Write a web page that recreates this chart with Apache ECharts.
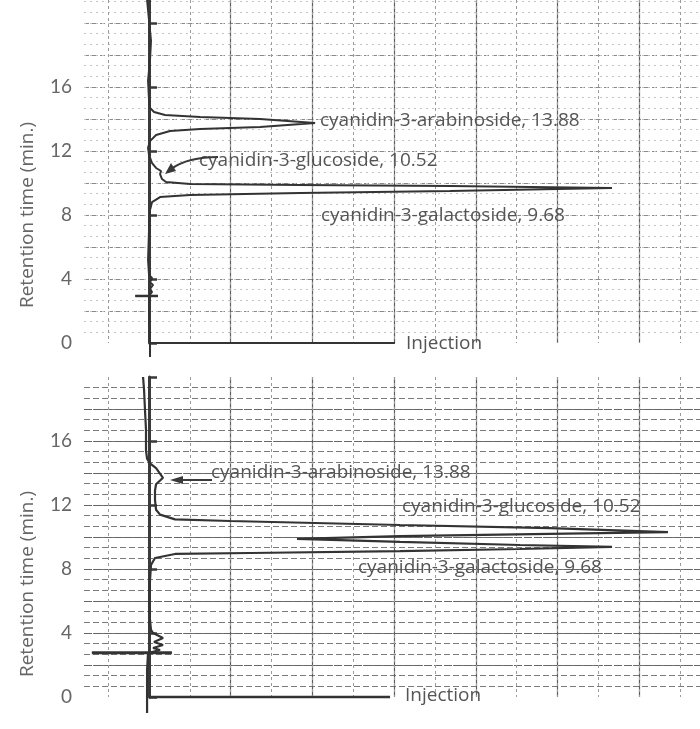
<!DOCTYPE html>
<html>
<head>
<meta charset="utf-8">
<script src="https://cdn.jsdelivr.net/npm/echarts@6/dist/echarts.min.js"></script>
<style>
html,body{margin:0;padding:0;background:#fff;}
#chart{width:700px;height:729px;}
</style>
</head>
<body>
<div id="chart"></div>
<script>
// ---- Data (x = detector response in chart divisions, y = retention time in min) ----
// Top chromatogram trace
const topTraceX = [-0.024,-0.012,0.024,0.012,-0.012,0,0.012,0.061,0.196,0.624,1.359,2.032,1.359,0.624,0.257,0.086,0.012,-0.012,0,0.037,0.086,0.147,0.135,0.159,0.208,0.502,1.848,3.684,5.667,3.684,1.848,0.502,0.135,0.037,0.012,0,-0.012,0,0.037,0.012,0.049,0.012,0.037,0,0,0.012,0.012];
const topTraceT = [21.44,20.8,18.9,17.7,16.4,15.2,14.7,14.44,14.25,14.12,14.0,13.75,13.5,13.38,13.25,13.0,12.62,12.2,11.75,11.25,10.94,10.75,10.56,10.25,10.06,9.94,9.88,9.81,9.69,9.5,9.38,9.25,9.12,8.81,8.31,7.06,5.19,4.25,4.06,3.8,3.63,3.38,3.19,2.94,1.44,0,-0.875];
// Bottom chromatogram trace
const botTraceX = [-0.073,-0.061,-0.049,-0.037,-0.037,-0.024,0.012,0.086,0.171,0.086,0.073,0.073,0.086,0.135,0.318,0.991,3.072,4.908,6.352,4.908,3.072,1.811,3.072,4.541,5.667,4.541,3.072,1.236,0.318,0.073,0.024,0.012,0,0.012,0.024,0.049,0.171,0.061,0.171,0.049,0.135,-0.012,-0.024,-0.024,-0.024];
const botTraceT = [20.0,19.2,17.9,16.7,15.4,14.9,14.6,14.3,13.7,13.3,12.9,12.3,11.7,11.4,11.1,11.0,10.75,10.56,10.31,10.19,10.06,9.88,9.69,9.5,9.38,9.25,9.12,9.0,8.94,8.69,8.25,7.3,6.06,4.8,4.2,4.0,3.69,3.44,3.25,3.06,2.94,2.75,1.69,0,-1.0];
// Injection baselines (t = 0) and injection pen marks
const topInjLineX = [0, 3.01];
const topInjLineT = [0, 0];
const topInjMarkX = [-0.17, 0.11];
const topInjMarkT = [2.94, 2.94];
const botInjLineX = [0, 2.95];
const botInjLineT = [0, 0];
const botInjMarkX = [-0.70, 0.28];
const botInjMarkT = [2.76, 2.76];
// Axis ticks
const yTickValues = [0, 4, 8, 12, 16, 20];
const yLabelValues = [0, 4, 8, 12, 16];
// Annotations
const axisTitle = 'Retention time (min.)';
const peakLabels = ['cyanidin-3-arabinoside, 13.88', 'cyanidin-3-glucoside, 10.52', 'cyanidin-3-galactoside, 9.68'];
const injLabel = 'Injection';

const zip = (xs, ys) => xs.map((x, i) => [x, ys[i]]);

const chart = echarts.init(document.getElementById('chart'), null, {renderer: 'canvas'});
const TRACE = '#333';
const TXT = '#555';
const FONT = 'Lato, "Open Sans", sans-serif';
const TFONT = '"Open Sans", Lato, sans-serif';

const xMin = -0.796, xMax = 6.744;
function xAxes(grid) {
  return [
    {type:'value', gridIndex:grid, min:xMin, max:xMax, splitNumber:7,
     axisLine:{show:false}, axisTick:{show:false}, axisLabel:{show:false},
     splitLine:{show:true, showMinLine:false, showMaxLine:false, lineStyle:{color:'#5e5e5e', width:1.2}}},
    {type:'value', gridIndex:grid, min:xMin, max:xMax, splitNumber:15,
     axisLine:{show:false}, axisTick:{show:false}, axisLabel:{show:false},
     splitLine:{show:true, showMinLine:false, showMaxLine:false, lineStyle:{color:'#9a9a9a', width:1, type:[3,3]}}}
  ];
}
function mainY(grid, max) {
  return {type:'value', gridIndex:grid, min:0, max:max, interval:4,
    axisLine:{show:true, lineStyle:{color:'#3a3a3a', width:3}},
    axisTick:{show:true, inside:true, length:8, customValues:yTickValues, lineStyle:{color:'#3a3a3a', width:2.5}},
    axisLabel:{show:true, customValues:yLabelValues, margin:12, color:'#666', fontSize:19, fontFamily:FONT,
      formatter: v => (yLabelValues.indexOf(v) >= 0 ? String(v) : '')},
    splitLine:{show:false}};
}
function gridY(grid, max, interval, style) {
  return {type:'value', gridIndex:grid, min:0, max:max, interval:interval,
    axisLine:{show:false}, axisTick:{show:false}, axisLabel:{show:false},
    splitLine:{show:true, showMinLine:false, showMaxLine:false, lineStyle:style}};
}
const topMax = 21.44, botMax = 20;

const lineSeries = (xi, yi, data, width) => ({
  type:'line', xAxisIndex:xi, yAxisIndex:yi, data:data, showSymbol:false, symbol:'none',
  clip:false, smooth:false, silent:true, animation:false,
  lineStyle:{color:TRACE, width:width}, z:5
});

const txt = (text, x, y, size) => ({type:'text', x:x, y:y, silent:true, z:10,
  style:{text:text, fill:TXT, font:`${size}px ${TFONT}`, textVerticalAlign:'middle', textAlign:'left'}});

chart.setOption({
  animation:false,
  backgroundColor:'#fff',
  grid:[
    {left:84, right:0, top:0, height:343},
    {left:84, right:0, top:377, height:320}
  ],
  xAxis:[...xAxes(0), ...xAxes(1)],
  yAxis:[
    mainY(0, topMax),
    gridY(0, topMax, 2, {color:'#8a8a8a', width:1, type:[5,3]}),
    gridY(0, topMax, 2/3, {color:'#c4c4c4', width:1, type:[2,4]}),
    mainY(1, botMax),
    gridY(1, botMax, 2/3, {color:'#7a7a7a', width:1, type:[6,3]}),
    gridY(1, botMax, 2, {color:'#666', width:1.2, type:[8,2]})
  ],
  series:[
    lineSeries(0, 0, zip(topTraceX, topTraceT), 2),
    lineSeries(0, 0, zip(topInjLineX, topInjLineT), 2),
    lineSeries(0, 0, zip(topInjMarkX, topInjMarkT), 2.5),
    lineSeries(2, 3, zip(botTraceX, botTraceT), 2.2),
    lineSeries(2, 3, zip(botInjLineX, botInjLineT), 2.5),
    lineSeries(2, 3, zip(botInjMarkX, botInjMarkT), 3)
  ],
  graphic:[
    // axis titles
    {type:'text', x:28, y:215, rotation:Math.PI/2, silent:true,
     style:{text:axisTitle, fill:'#666', font:`19px ${TFONT}`, textAlign:'center', textVerticalAlign:'middle'}},
    {type:'text', x:28, y:584, rotation:Math.PI/2, silent:true,
     style:{text:axisTitle, fill:'#666', font:`19px ${TFONT}`, textAlign:'center', textVerticalAlign:'middle'}},
    // top panel labels
    txt(peakLabels[0], 320, 121, 19),
    txt(peakLabels[1], 199, 161, 19),
    txt(peakLabels[2], 321, 216, 19),
    txt(injLabel, 406, 344, 19),
    // bottom panel labels
    txt(peakLabels[0], 211, 473, 19),
    txt(peakLabels[1], 402, 507, 19),
    txt(peakLabels[2], 358, 568, 19),
    txt(injLabel, 405, 696, 19),
    // top arrow (curved)
    {type:'bezierCurve', silent:true, z:10,
     shape:{x1:218, y1:157, cpx1:188, cpy1:157, x2:171, y2:169},
     style:{stroke:'#3a3a3a', lineWidth:2.2, fill:null}},
    {type:'polygon', silent:true, z:10,
     shape:{points:[[165,174],[176,171],[171,163]]}, style:{fill:'#3a3a3a'}},
    // bottom arrow
    {type:'line', silent:true, z:10,
     shape:{x1:212, y1:480, x2:178, y2:480}, style:{stroke:'#3a3a3a', lineWidth:2}},
    {type:'polygon', silent:true, z:10,
     shape:{points:[[170,480],[183,476],[183,484]]}, style:{fill:'#3a3a3a'}}
  ]
});
</script>
</body>
</html>
